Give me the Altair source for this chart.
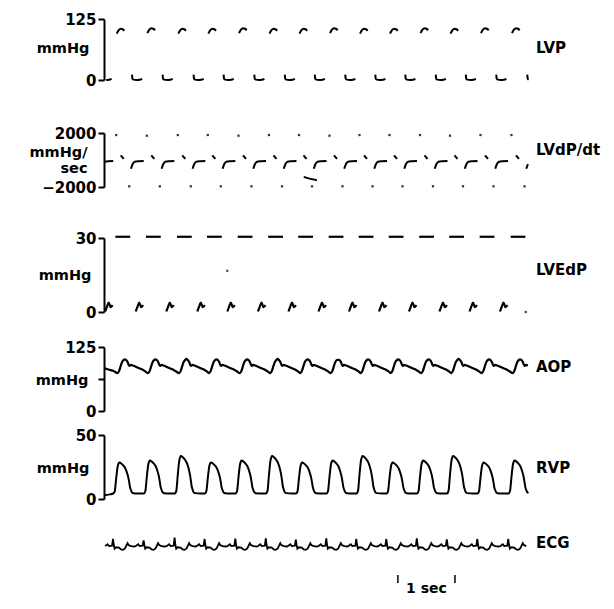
import altair as alt
import pandas as pd

# ---------------- data read off the tracing ----------------
# time of each LV systolic peak (s); first entry = beat just before the record starts
BEAT_T = [-0.242, 0.293, 0.829, 1.372, 1.898, 2.436, 2.970, 3.496, 4.030,
          4.556, 5.082, 5.616, 6.142, 6.676, 7.219]
T_END = 7.45

# LVP (mmHg): systolic tip and diastolic "L" fragments
LVP_PEAK = [105, 105, 106, 105, 105, 106, 105, 105, 106, 105, 105, 106, 105, 106, 106]
LVP_ARC_DT = [-0.070, -0.035, 0.0, 0.035, 0.065]
LVP_ARC_REL = [-10, -3, 0, -1, -4]
LVP_L_DT = [0.198, 0.205, 0.222, 0.280, 0.330, 0.375]
LVP_L_V = [11, 3, 0.8, 0, 0.5, 2.5]

# LVdP/dt (mmHg/sec)
DPDT_MAX_DT = -0.079
DPDT_MAX = [1850, 1850, 1800, 1850, 1850, 1800, 1850, 1850, 1800, 1850, 1850, 1850, 1800, 1850, 1850]
DPDT_MIN_DT = 0.149
DPDT_MIN = [-1950] * 15
DPDT_TOP_DT = [0.0, 0.053]
DPDT_TOP_V = [350, 80]
DPDT_DIA_DT = [0.180, 0.210, 0.245, 0.315, 0.403]
DPDT_DIA_V = [-650, -300, -130, -90, -70]
DPDT_ART_T = [3.50, 3.62, 3.73]
DPDT_ART_V = [-1250, -1400, -1500]

# LVEdP (mmHg, high-gain, clipped at 30)
EDP_DASH_DT = [-0.093, 0.166]
EDP_DASH_V = [30.5, 30.5]
EDP_BUMP_DT = [0.263, 0.298, 0.324, 0.359, 0.394]
EDP_BUMP_V = [0.2, 2.4, 3.8, 2.0, 2.8]
EDP_DOT_T = [2.16, 7.39]
EDP_DOT_V = [16.7, 0.0]

# AOP (mmHg)
AOP_START_T = [0.0, 0.08, 0.17]
AOP_START_V = [84, 81, 78]
AOP_DT = [-0.053, -0.026, 0.0, 0.026, 0.053, 0.070, 0.096, 0.123, 0.149,
          0.175, 0.210, 0.263, 0.324, 0.385, 0.429]
AOP_V = [74, 79, 88, 96, 100, 101, 99.5, 95, 88, 90, 89, 86.5, 83.5, 80.5, 77.5]
AOP_PEAK = [101, 101, 101, 102, 101, 101, 102, 101, 100, 101, 101, 101, 102, 101, 101]

# RVP (mmHg)
RVP_START_T = [0.0, 0.1]
RVP_START_V = [3.0, 3.6]
RVP_BASE = 4.3
RVP_DT = [-0.131, -0.105, -0.079, -0.053, -0.035, -0.026, 0.009, 0.044, 0.079,
          0.105, 0.131, 0.149, 0.163, 0.177, 0.193, 0.219, 0.324]
RVP_F = [0, 0.07, 0.5, 0.88, 0.98, 1, 0.97, 0.91, 0.82, 0.7, 0.53, 0.36, 0.2,
         0.12, 0.05, 0.01, 0.0]
RVP_PEAK = [29, 28.5, 30, 33.5, 28.5, 30, 33.5, 28.5, 30, 33.5, 28.5, 30, 33.5, 28.5, 30]

# ECG (relative units)
ECG_DT = [-0.275, -0.231, -0.205, -0.152, -0.135, -0.121, -0.107, -0.082, -0.030,
          0.005, 0.040, 0.075, 0.119, 0.137, 0.180, 0.233]
ECG_V = [0.05, 0.3, 0.05, 0.1, None, 0.2, -0.3, -0.1, -0.15, -0.4, -0.45, -0.25,
         0.45, 0.2, 0.05, 0.0]
ECG_R = [1.0, 1.0, 0.8, 1.2, 1.0, 1.05, 1.1, 0.9, 1.1, 1.0, 1.0, 1.1, 0.95, 1.0, 1.0]

SCALEBAR_T = [5.15, 6.15]

# ---------------- build tables ----------------
def beat_rows(offsets, vals_for_beat, seg, start=0):
    rows = []
    for i, b in enumerate(BEAT_T):
        if i < start:
            continue
        for dt, v in zip(offsets, vals_for_beat(i)):
            t = b + dt
            if 0 <= t <= T_END:
                rows.append({"t": t, "v": v, "seg": f"{seg}{i}"})
    return rows

lvp = beat_rows(LVP_ARC_DT, lambda i: [LVP_PEAK[i] + r for r in LVP_ARC_REL], "a", start=1)
lvp += beat_rows(LVP_L_DT, lambda i: LVP_L_V, "l")
lvp_df = pd.DataFrame(lvp)

dpdt = beat_rows(DPDT_TOP_DT, lambda i: DPDT_TOP_V, "p", start=1)
dpdt += beat_rows(DPDT_DIA_DT, lambda i: DPDT_DIA_V, "d")
dpdt += [{"t": t, "v": v, "seg": "art"} for t, v in zip(DPDT_ART_T, DPDT_ART_V)]
dpdt_df = pd.DataFrame(dpdt)
dots = beat_rows([DPDT_MAX_DT], lambda i: [DPDT_MAX[i]], "mx", start=1)
dots += beat_rows([DPDT_MIN_DT], lambda i: [DPDT_MIN[i]], "mn", start=1)
dots_df = pd.DataFrame(dots)

edp = beat_rows(EDP_DASH_DT, lambda i: EDP_DASH_V, "h", start=1)
edp += beat_rows(EDP_BUMP_DT, lambda i: EDP_BUMP_V, "b")
edp_df = pd.DataFrame(edp)
edp_dot_df = pd.DataFrame({"t": EDP_DOT_T, "v": EDP_DOT_V})

aop = [{"t": t, "v": v, "seg": "s"} for t, v in zip(AOP_START_T, AOP_START_V)]
def aop_vals(i):
    vals = list(AOP_V)
    vals[5] = AOP_PEAK[i]
    return vals
for r in beat_rows(AOP_DT, aop_vals, "x", start=1):
    r["seg"] = "s"
    aop.append(r)
aop_df = pd.DataFrame(aop)

rvp = [{"t": t, "v": v, "seg": "s"} for t, v in zip(RVP_START_T, RVP_START_V)]
for r in beat_rows(RVP_DT, lambda i: [RVP_BASE + f * (RVP_PEAK[i] - RVP_BASE) for f in RVP_F], "x", start=1):
    r["seg"] = "s"
    rvp.append(r)
rvp_df = pd.DataFrame(rvp)

ecg = beat_rows(ECG_DT, lambda i: [ECG_R[i] if v is None else v for v in ECG_V], "x", start=1)
ecg_df = pd.DataFrame(ecg).sort_values("t")

# ---------------- chart ----------------
FONT = "DejaVu Sans"
W = 428
XS = alt.Scale(domain=[0, 7.5], nice=False, zero=False)
X = alt.X("t:Q", scale=XS, axis=None)


def yenc(domain, rng, values, title, title_y, title_x=-15, label_expr=None):
    ax = dict(values=values, format="d", title=title, titleAngle=0, titleAlign="right",
              titleBaseline="middle", titleX=title_x, titleY=title_y, titleLineHeight=16)
    if label_expr:
        ax["labelExpr"] = label_expr
    return alt.Y("v:Q", scale=alt.Scale(domain=domain, range=rng, nice=False, zero=False),
                  axis=alt.Axis(**ax))


def label(text, y):
    return alt.Chart(pd.DataFrame({"lab": [text]})).mark_text(
        align="left", baseline="middle", font=FONT, fontSize=15, fontWeight="bold", color="black"
    ).encode(x=alt.value(W + 4), y=alt.value(y), text="lab:N")


def line(df, y, width=2.0):
    return alt.Chart(df).mark_line(color="black", strokeWidth=width, interpolate="monotone").encode(
        x=X, y=y, detail="seg:N", order="t:Q")


# Panel 1: LVP
y1 = yenc([0, 125], [72, 11], [0, 125], "mmHg", 40)
p1 = alt.layer(line(lvp_df, y1), label("LVP", 40)).properties(width=W, height=98)

# Panel 2: LVdP/dt
y2 = yenc([-2000, 2000], [81, 27], [-2000, 2000], ["mmHg/", "sec"], 46, title_x=-17)
p2 = alt.layer(
    line(dpdt_df, y2),
    alt.Chart(dots_df).mark_square(color="black", size=5, opacity=0.8).encode(x=X, y=y2),
    label("LVdP/dt", 44),
).properties(width=W, height=106)

# Panel 3: LVEdP
y3 = yenc([0, 30], [100, 26], [0, 30], "mmHg", 63, title_x=-13)
p3 = alt.layer(
    line(edp_df, y3, 2.2),
    alt.Chart(edp_dot_df).mark_square(color="black", size=5).encode(x=X, y=y3),
    label("LVEdP", 58),
).properties(width=W, height=117)

# Panel 4: AOP
y4 = yenc([0, 125], [82, 18], [0, 62.5, 125], "mmHg", 51, title_x=-16,
          label_expr="datum.value == 62.5 ? '' : datum.label")
p4 = alt.layer(line(aop_df, y4, 2.2), label("AOP", 38)).properties(width=W, height=94)

# Panel 5: RVP
y5 = yenc([0, 50], [76, 12], [0, 50], "mmHg", 45)
p5 = alt.layer(line(rvp_df, y5, 2.0), label("RVP", 45)).properties(width=W, height=94)

# Panel 6: ECG + time scale
y6 = alt.Y("v:Q", scale=alt.Scale(domain=[-1, 1], range=[37, 22], nice=False, zero=False), axis=None)
sb = pd.DataFrame({"t": SCALEBAR_T})
sbt = pd.DataFrame({"t": [sum(SCALEBAR_T) / 2], "lab": ["1 sec"]})
p6 = alt.layer(
    alt.Chart(ecg_df).mark_line(color="black", strokeWidth=1.8).encode(x=X, y=y6, order="t:Q"),
    alt.Chart(sb).mark_rule(color="black", strokeWidth=1.5).encode(x=X, y=alt.value(58), y2=alt.value(66)),
    alt.Chart(sbt).mark_text(font=FONT, fontSize=14, fontWeight="bold", color="black", baseline="middle").encode(
        x=X, y=alt.value(72), text="lab:N"),
    label("ECG", 26),
).properties(width=W, height=80)

chart = alt.vconcat(p1, p2, p3, p4, p5, p6, spacing=0).properties(
    padding={"left": 20, "top": 0, "right": 0, "bottom": 0}
).configure_view(stroke=None).configure_axis(
    domainColor="black", domainWidth=2, tickColor="black", tickWidth=2, tickSize=6,
    labelFont=FONT, labelFontSize=15, labelFontWeight="bold", labelColor="black", labelPadding=2,
    titleFont=FONT, titleFontSize=14.5, titleFontWeight="bold", titleColor="black", grid=False,
)

chart.save("out.html", embed_options={"renderer": "svg", "actions": False})
